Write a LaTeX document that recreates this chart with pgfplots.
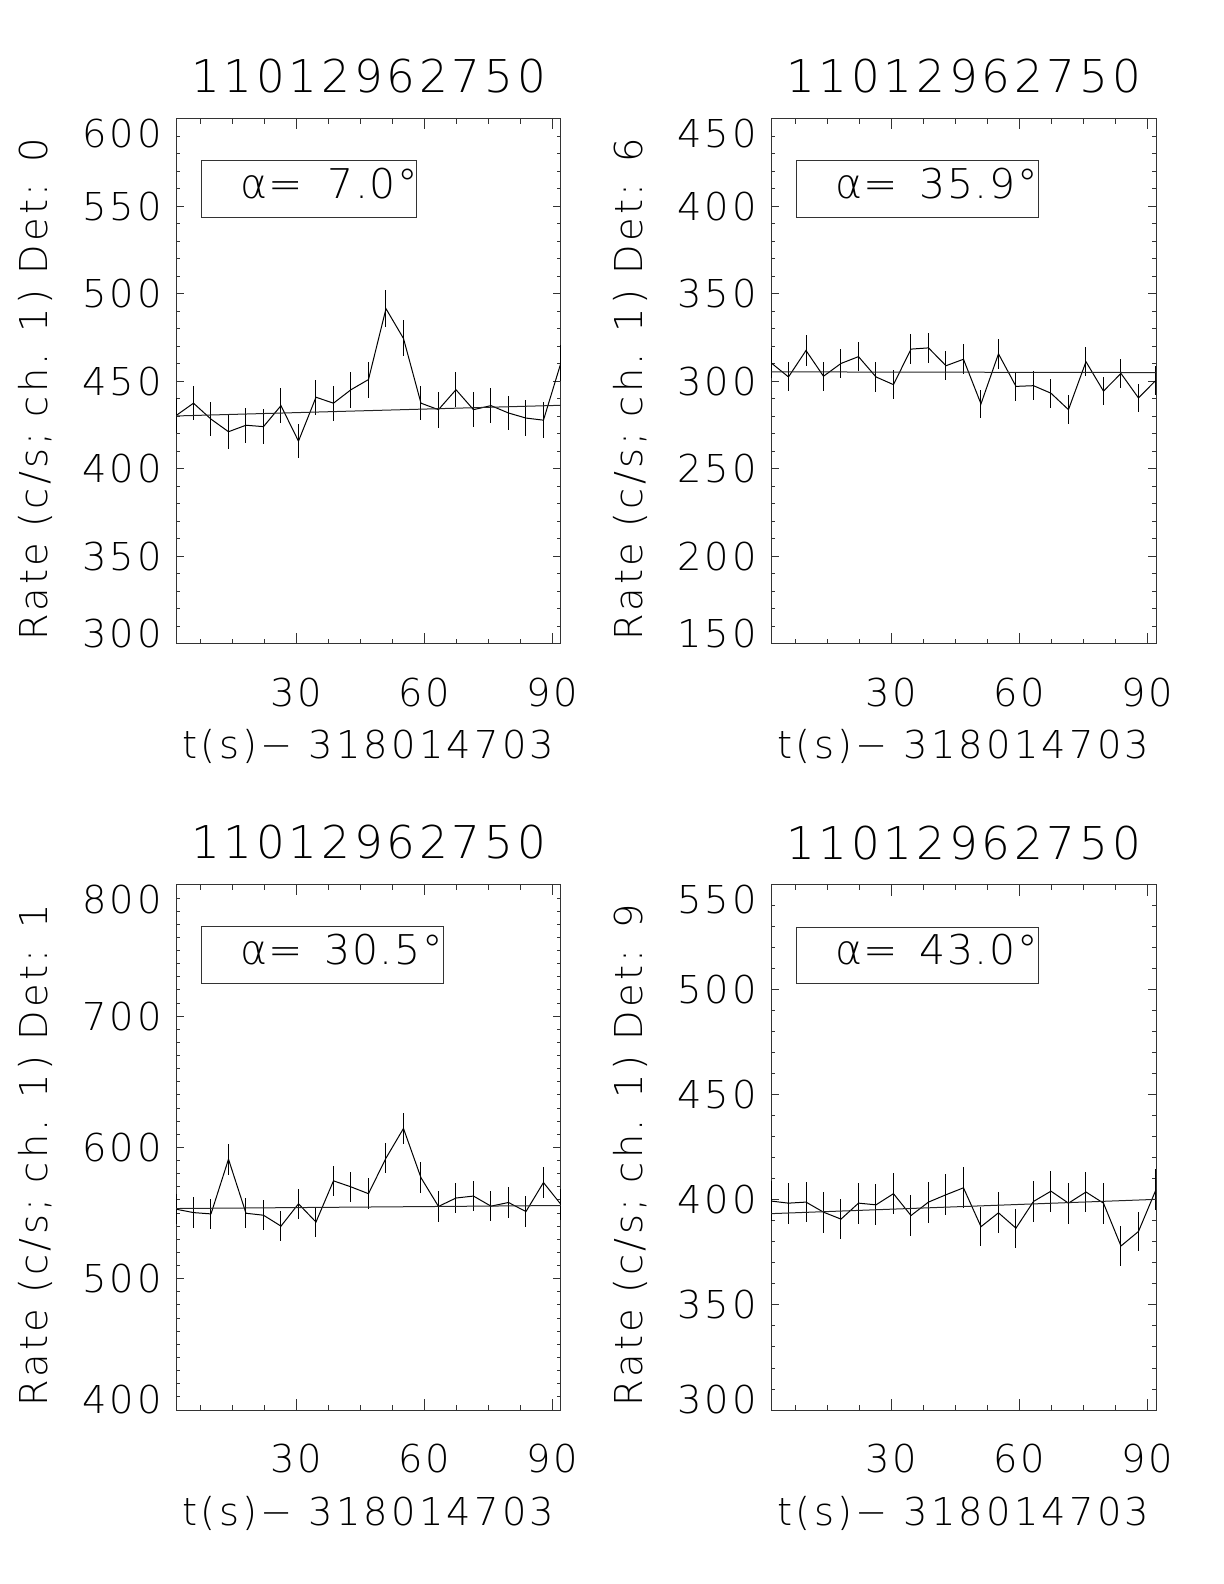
\documentclass[border=0pt]{standalone}
\usepackage{fontspec}
\setmainfont{DejaVuSans-ExtraLight.ttf}[LetterSpace=8.5]
\newfontfamily\boxfont{DejaVuSans-ExtraLight.ttf}[LetterSpace=4]
\usepackage{pgfplots}
\usepackage{pgfplotstable}
\pgfplotsset{compat=1.18}
\newcommand\tickfont{\fontsize{19.2bp}{23bp}\selectfont}
\newcommand\titlefont{\fontsize{22.6bp}{27bp}\selectfont}
\newcommand\boxtext{\boxfont\fontsize{20.5bp}{24bp}\selectfont}
\newcommand\up[2]{\raisebox{#1}[\height][\depth]{#2}}

\pgfplotstableread{
x y e
1.875 430.5 9.9
5.973 437.6 9.75
10.071 428.5 9.85
14.169 421.3 9.85
18.267 425.0 10.0
22.365 424.2 9.95
26.463 436.2 10.2
30.561 415.9 9.65
34.659 441.0 10.1
38.757 437.6 10.0
42.855 445.3 10.3
46.953 451.1 10.3
51.051 491.6 10.6
55.149 474.6 10.3
59.247 437.6 9.75
63.345 433.9 10.2
67.443 445.3 10.1
71.541 433.9 10.1
75.639 436.2 10.1
79.737 432.0 9.95
83.835 429.1 10.1
87.933 427.9 10.1
92.031 460.7 10.4
}\dataA
\pgfplotstableread{
x y e
1.875 310.7 8.5
5.973 302.6 8.3
10.071 317.7 8.9
14.169 303.0 8.4
18.267 310.3 8.5
22.365 314.2 8.4
26.463 302.6 8.5
30.561 298.2 8.2
34.659 318.5 8.6
38.757 319.2 8.5
42.855 309.0 8.4
46.953 312.7 8.6
51.051 287.2 8.2
55.149 315.8 8.4
59.247 297.2 8.2
63.345 297.6 8.2
67.443 293.3 8.2
71.541 283.9 8.2
75.639 311.3 8.4
79.737 294.5 8.2
83.835 304.6 8.2
87.933 290.6 8.2
92.031 300.7 8.3
}\dataB
\pgfplotstableread{
x y e
1.875 553.0 11.6
5.973 550.4 11.6
10.071 549.4 11.6
14.169 591.1 11.7
18.267 549.9 11.5
22.365 548.4 11.6
26.463 540.1 11.3
30.561 557.1 11.6
34.659 543.2 11.3
38.757 574.6 11.6
42.855 570.0 11.6
46.953 564.8 11.6
51.051 591.9 11.6
55.149 614.5 12.0
59.247 577.0 11.6
63.345 555.1 11.6
67.443 561.5 11.5
71.541 563.0 11.5
75.639 555.3 11.6
79.737 558.1 11.6
83.835 551.2 11.6
87.933 573.3 11.8
92.031 556.6 11.6
}\dataC
\pgfplotstableread{
x y e
1.875 399.5 9.7
5.973 398.5 9.7
10.071 399.0 9.7
14.169 394.2 9.7
18.267 390.9 9.7
22.365 398.5 9.7
26.463 397.7 9.7
30.561 403.0 9.7
34.659 392.6 9.7
38.757 399.0 9.8
42.855 402.5 9.7
46.953 405.8 9.7
51.051 387.3 9.4
55.149 393.9 9.7
59.247 386.6 9.3
63.345 399.3 9.7
67.443 404.2 9.7
71.541 398.5 9.7
75.639 403.8 9.7
79.737 398.5 9.7
83.835 378.1 9.5
87.933 385.0 9.4
92.031 404.9 9.8
}\dataD

\pgfplotsset{
  idl/.style={
    scale only axis, width=192.5bp, height=262.5bp, anchor=south west,
    xmin=1.875, xmax=92.04,
    xtick={30,60,90}, xticklabels={30,60,90},
    minor xtick={7.5,15,22.5,37.5,45,52.5,67.5,75,82.5},
    axis line style={black!80, line width=0.5bp},
    tick style={black!80, line width=0.5bp},
    xtick style={/pgfplots/major tick length=5.25bp, /pgfplots/minor tick length=2.6bp},
    ytick style={/pgfplots/major tick length=3.85bp, /pgfplots/minor tick length=1.9bp},
    tick align=inside,
    ticklabel style={font=\tickfont, text=black},
    xticklabel style={anchor=base, yshift=-31.2bp, inner sep=0pt},
    yticklabel style={anchor=east, xshift=-6.8bp, inner sep=0pt},
    every axis title/.style={at={([yshift=13bp]axis description cs:0.5,1)}, anchor=base, inner sep=0pt, font=\titlefont},
    every axis x label/.style={at={([yshift=-57.5bp]axis description cs:0.5,0)}, anchor=base, inner sep=0pt, font=\tickfont},
    every axis y label/.style={at={([xshift=-64.3bp,yshift=-4bp]axis description cs:0,0.5)}, rotate=90, anchor=base, inner sep=0pt, font=\tickfont},
    title={11012962750},
    xlabel={t(s)− 318014703},
    /pgf/number format/assume math mode=true,
  },
  dat/.style={black, line width=0.5bp, mark=none,
    error bars/.cd, y dir=both, y explicit, error mark=none,
    error bar style={black, line width=0.5bp}},
  fit/.style={black!85, line width=0.5bp, mark=none},
}

\begin{document}
\begin{tikzpicture}
\useasboundingbox (0,0) rectangle (612bp,792bp);

% top-left
\begin{axis}[idl, at={(88bp,470bp)},
  ymin=300, ymax=600,
  ytick={300,350,400,450,500,550,600},
  yticklabels={{\up{5.3bp}{300}},350,400,450,500,550,{\up{-7.5bp}{600}}},
  minor ytick={300,310,...,600},
  ylabel={Rate (c/s; ch. 1) Det: 0}]
\addplot[dat] table[x=x, y=y, y error=e] {\dataA};
\addplot[fit] coordinates {(1.875,430.3) (92.04,436.4)};
\draw[black!80, line width=0.5bp] (rel axis cs:0.0668,0.8133) rectangle (rel axis cs:0.625,0.92);
\node[anchor=base west, inner sep=0pt, font=\boxtext] at (rel axis cs:0.166,0.848) {α=\hspace{12bp}7.0°};
\end{axis}

% top-right
\begin{axis}[idl, at={(385.5bp,470bp)},
  ymin=150, ymax=450,
  ytick={150,200,250,300,350,400,450},
  yticklabels={{\up{5.3bp}{150}},200,250,300,350,400,{\up{-7.5bp}{450}}},
  minor ytick={150,160,...,450},
  ylabel={Rate (c/s; ch. 1) Det: 6}]
\addplot[dat] table[x=x, y=y, y error=e] {\dataB};
\addplot[fit] coordinates {(1.875,305.5) (92.04,305.1)};
\draw[black!80, line width=0.5bp] (rel axis cs:0.0668,0.8133) rectangle (rel axis cs:0.694,0.92);
\node[anchor=base west, inner sep=0pt, font=\boxtext] at (rel axis cs:0.166,0.848) {α=\hspace{10.5bp}35.9°};
\end{axis}

% bottom-left
\begin{axis}[idl, at={(88bp,87bp)},
  ymin=400, ymax=800,
  ytick={400,500,600,700,800},
  yticklabels={{\up{5.3bp}{400}},500,600,700,{\up{-7.5bp}{800}}},
  minor ytick={400,410,...,800},
  ylabel={Rate (c/s; ch. 1) Det: 1}]
\addplot[dat] table[x=x, y=y, y error=e] {\dataC};
\addplot[fit] coordinates {(1.875,553.5) (92.04,555.8)};
\draw[black!80, line width=0.5bp] (rel axis cs:0.0668,0.8133) rectangle (rel axis cs:0.694,0.92);
\node[anchor=base west, inner sep=0pt, font=\boxtext] at (rel axis cs:0.166,0.848) {α=\hspace{10.5bp}30.5°};
\end{axis}

% bottom-right
\begin{axis}[idl, at={(385.5bp,87bp)},
  ymin=300, ymax=550,
  ytick={300,350,400,450,500,550},
  yticklabels={{\up{5.3bp}{300}},350,400,450,500,{\up{-7.5bp}{550}}},
  minor ytick={300,310,...,550},
  ylabel={Rate (c/s; ch. 1) Det: 9}]
\addplot[dat] table[x=x, y=y, y error=e] {\dataD};
\addplot[fit] coordinates {(1.875,393.5) (92.04,400.3)};
\draw[black!80, line width=0.5bp] (rel axis cs:0.0668,0.8133) rectangle (rel axis cs:0.694,0.92);
\node[anchor=base west, inner sep=0pt, font=\boxtext] at (rel axis cs:0.166,0.848) {α=\hspace{10.5bp}43.0°};
\end{axis}
\end{tikzpicture}
\end{document}
